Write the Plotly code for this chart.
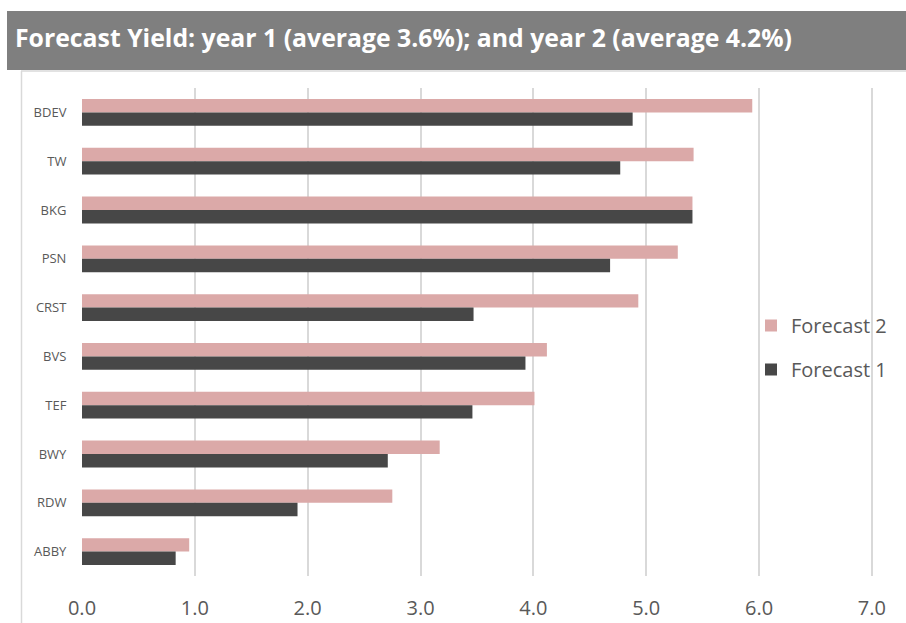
import plotly.graph_objects as go

categories = ["BDEV", "TW", "BKG", "PSN", "CRST", "BVS", "TEF", "BWY", "RDW", "ABBY"]
forecast2 = [5.94, 5.42, 5.41, 5.28, 4.93, 4.12, 4.01, 3.17, 2.75, 0.95]
forecast1 = [4.88, 4.77, 5.41, 4.68, 3.47, 3.93, 3.46, 2.71, 1.91, 0.83]
x_ticks = [0, 1, 2, 3, 4, 5, 6, 7]
title_text = "Forecast Yield: year 1 (average 3.6%); and year 2 (average 4.2%)"

W, H = 906, 623
L, R, T, B = 82, 33, 88, 47
pw, ph = W - L - R, H - T - B

def px(x):
    return (x - L) / pw

def py(y):
    return (H - B - y) / ph

fig = go.Figure()
fig.add_trace(go.Bar(y=categories, x=forecast2, name="Forecast 2", orientation="h",
                     legendgroup="f2",
                     marker=dict(color="#DBA9A8", line=dict(width=0))))
fig.add_trace(go.Bar(y=categories, x=forecast1, name="Forecast 1", orientation="h",
                     legendgroup="f1",
                     marker=dict(color="#474747", line=dict(width=0))))

fig.update_layout(
    width=W, height=H,
    margin=dict(l=L, r=R, t=T, b=B, autoexpand=False),
    paper_bgcolor="white", plot_bgcolor="white",
    barmode="group", bargap=0.45, bargroupgap=0,
    font=dict(family="Open Sans", color="#595959"),
    showlegend=True,
    legend=dict(x=px(751), y=py(306), xanchor="left", yanchor="top",
                bgcolor="rgba(0,0,0,0)", font=dict(size=20, color="#595959"),
                tracegroupgap=15, traceorder="grouped"),
    xaxis=dict(range=[0, 7.01], tickvals=x_ticks, tickformat=".1f",
               showgrid=True, gridcolor="#D9D9D9", gridwidth=2,
               zeroline=False, showline=False, automargin=False,
               ticks="outside", ticklen=14, tickcolor="rgba(0,0,0,0)",
               tickfont=dict(size=20, color="#595959")),
    yaxis=dict(categoryorder="array", categoryarray=categories, autorange="reversed",
               showgrid=False, zeroline=False, showline=False, automargin=False,
               ticks="outside", ticklen=12, tickcolor="rgba(0,0,0,0)",
               tickfont=dict(size=13, color="#595959")),
    shapes=[
        dict(type="rect", xref="paper", yref="paper",
             x0=px(7), x1=px(906), y0=py(70), y1=py(11),
             fillcolor="#7F7F7F", line=dict(width=0), layer="below"),
        dict(type="line", xref="paper", yref="paper",
             x0=px(21), x1=px(906), y0=py(71), y1=py(71),
             line=dict(color="#D9D9D9", width=1.5)),
        dict(type="line", xref="paper", yref="paper",
             x0=px(21.5), x1=px(21.5), y0=py(71), y1=py(623),
             line=dict(color="#D9D9D9", width=1.5)),
    ],
    annotations=[
        dict(text=title_text, xref="paper", yref="paper",
             x=px(13), y=py(37), xanchor="left", yanchor="middle",
             showarrow=False,
             font=dict(family="Open Sans", size=24.8, color="white", weight="bold")),
    ],
)

fig.write_html("out.html")
